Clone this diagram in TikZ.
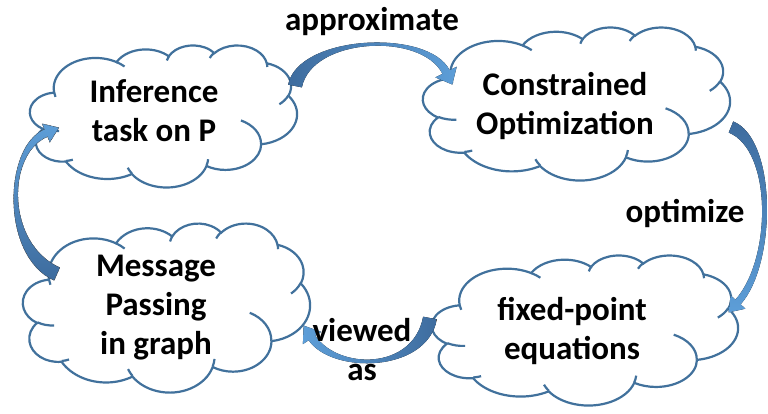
\documentclass[tikz,border=0pt]{standalone}
\usepackage{fontspec}
\setmainfont{Carlito}
\usetikzlibrary{calc}
\definecolor{cloudblue}{RGB}{65,113,156}
\definecolor{arrdark}{RGB}{62,108,158}
\definecolor{arrlight}{RGB}{93,158,216}

% one arc of an OOXML-style cloud (angles are visual angles, in degrees)
\newcommand\cldcalc[4]{%
  \pgfmathsetmacro\cldta{atan2((#1)*sin(#3),(#2)*cos(#3))}%
  \pgfmathsetmacro\cldtb{atan2((#1)*sin((#3)+(#4)),(#2)*cos((#3)+(#4)))}%
  \pgfmathsetmacro\cldtb{(\cldtb<\cldta) ? (\cldtb+360) : (\cldtb)}%
  \global\let\cldta\cldta
  \global\let\cldtb\cldtb}
\newcommand\cldarc[4]{\pgfextra{\cldcalc{#1}{#2}{#3}{#4}} arc[start angle=\cldta, end angle=\cldtb, x radius=#1, y radius=#2]}

\newcommand\pptcloud[4]{%
 \begin{scope}[shift={(#1,#2)}, xscale=#3/432, yscale=#4/432]
  \filldraw[cloudstyle] (39,143.7)
    \cldarc{67.53}{91.90}{-190.4875}{123.7805}
    \cldarc{53.33}{72.67}{-144.1024}{89.9452}
    \cldarc{43.65}{59.45}{-145.8079}{99.7230}
    \cldarc{48.57}{65.95}{-130.9861}{117.2417}
    \cldarc{53.33}{72.73}{-78.7089}{109.0269}
    \cldarc{67.75}{92.20}{-46.2673}{130.2690}
    \cldarc{57.85}{78.67}{0.6250}{114.0333}
    \cldarc{67.52}{92.15}{22.4516}{115.1726}
    \cldarc{77.20}{105.43}{66.2426}{75.7110}
    \cldarc{43.60}{59.18}{-274.9421}{146.7356}
    \cldarc{43.45}{59.45}{-246.8285}{152.5189}
    -- cycle;
  \draw[cloudstyle]
    (46.93,261.77) \cldarc{43.45}{59.45}{86.7420}{26.4295}
    (69.28,348.99) \cldarc{43.60}{59.18}{73.6105}{11.4475}
    (164.78,390.90) \cldarc{67.52}{92.15}{137.6242}{14.0811}
    (288.27,347.51) \cldarc{67.52}{92.15}{6.4533}{15.9984}
    (341.29,229.54) \cldarc{57.85}{78.67}{-70.2924}{70.9174}
    (417.98,153.54) \cldarc{53.33}{72.73}{30.3180}{27.7515}
    (383.24,54.26) \cldarc{48.57}{65.95}{-13.7443}{14.8589}
    (290.78,39.52) \cldarc{48.57}{65.95}{-149.1815}{18.1954}
    (221.41,47.20) \cldarc{43.65}{59.45}{-163.4943}{17.6864}
    (140.00,51.92) \cldarc{67.53}{91.90}{-66.7070}{12.3194}
    (41.27,157.89) \cldarc{67.53}{91.90}{157.6544}{11.8582};
 \end{scope}}

% tapered curved block arrow: start, control1, control2, head base, half width start, half width end, half head width, head length, style
\newcommand\blockarrow[9]{%
 \fill[#9]
   ($(#1)!#5!90:(#2)$) .. controls ($(#2)!#5!-90:(#1)$) and ($(#3)!#6!90:(#4)$) .. ($(#4)!#6!-90:(#3)$)
   -- ($(#4)!#7!-90:(#3)$) -- ($(#4)!-#8!(#3)$) -- ($(#4)!#7!90:(#3)$)
   -- ($(#4)!#6!90:(#3)$) .. controls ($(#3)!#6!-90:(#4)$) and ($(#2)!#5!90:(#1)$) .. ($(#1)!#5!-90:(#2)$) -- cycle;}

\begin{document}
\begin{tikzpicture}[x=1pt, y=-1pt,
  cloudstyle/.style={draw=cloudblue, fill=white, line width=2.2pt},
  lbl/.style={font=\fontsize{33}{39}\selectfont\bfseries, align=center, inner sep=0pt, text=black}]
\useasboundingbox (0,0) rectangle (768,414);

% clouds
\pptcloud{30}{45}{267}{142}
\pptcloud{423}{27}{307}{153}
\pptcloud{23}{223}{287}{169}
\pptcloud{432}{255}{306}{150}

% arrow coordinates
\coordinate (a1s) at (295,86);  \coordinate (a1c) at (305,36);  \coordinate (a1d) at (425,30);  \coordinate (a1e) at (446,72);
\coordinate (a2s) at (731,127); \coordinate (a2c) at (775,145); \coordinate (a2d) at (774,262); \coordinate (a2e) at (738,302);
\coordinate (a3s) at (430,318); \coordinate (a3c) at (420,372); \coordinate (a3d) at (335,372); \coordinate (a3e) at (312,338);
\coordinate (a4s) at (57,274);  \coordinate (a4c) at (3,250);   \coordinate (a4d) at (5,150);   \coordinate (a4e) at (46,133);

\blockarrow{a1s}{a1c}{a1d}{a1e}{7pt}{4pt}{12pt}{14pt}{left color=arrdark, right color=arrlight}
\blockarrow{a2s}{a2c}{a2d}{a2e}{6pt}{3.5pt}{10pt}{14pt}{top color=arrdark, bottom color=arrlight}
\blockarrow{a3s}{a3c}{a3d}{a3e}{7pt}{4pt}{11pt}{15pt}{left color=arrlight, right color=arrdark}
\blockarrow{a4s}{a4c}{a4d}{a4e}{7pt}{4pt}{10pt}{14pt}{top color=arrlight, bottom color=arrdark, draw=black!70, densely dotted, line width=0.5pt}

% cloud texts
\node[lbl] (inf) at (154,111) {Inference\\task on P};
\node[lbl] (con) at (565,106) {Constrained\\Optimization};
\node[lbl] (msg) at (156,308) {Message\\Passing\\in graph};
\node[lbl] (fix) at (572,331) {fixed-point\\equations};

% arrow labels
\node[lbl] (lapprox) at (372,22) {approximate};
\node[lbl] (lopt) at (685,213) {optimize};
\node[lbl] (lview) at (362,350) {viewed\\as};
\end{tikzpicture}
\end{document}
